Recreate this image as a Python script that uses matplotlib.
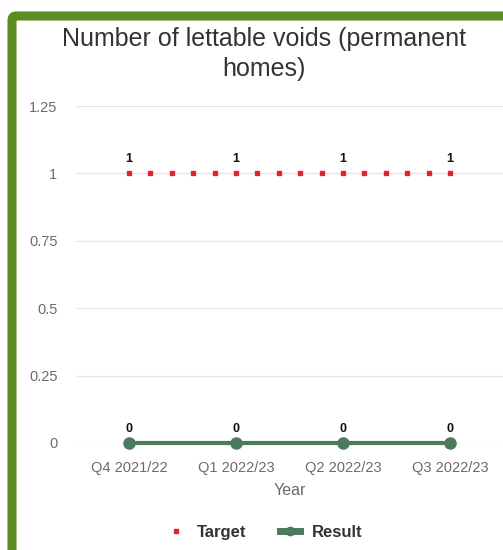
import matplotlib
matplotlib.use("Agg")
import matplotlib.pyplot as plt
from matplotlib.patches import FancyBboxPatch
from matplotlib.lines import Line2D
import numpy as np

categories = ["Q4 2021/22", "Q1 2022/23", "Q2 2022/23", "Q3 2022/23"]
target = [1, 1, 1, 1]
result = [0, 0, 0, 0]
yticks = [0, 0.25, 0.5, 0.75, 1, 1.25]
ytick_labels = ["0", "0.25", "0.5", "0.75", "1", "1.25"]

plt.rcParams['font.family'] = ['Liberation Sans', 'DejaVu Sans']

W, H = 503, 550
fig = plt.figure(figsize=(W / 100, H / 100), dpi=100)
fig.patch.set_facecolor("white")

def fx(px):
    return px / W

def fy(py):
    return 1 - py / H

green = "#5b8c22"
frame = FancyBboxPatch((fx(12), fy(600)), fx(600), 584 / H,
                       boxstyle="round,pad=0,rounding_size=0.008",
                       transform=fig.transFigure, facecolor="none",
                       edgecolor=green, linewidth=6.5, zorder=0)
fig.patches.append(frame)

y0px, y125px = 443, 106
ax = fig.add_axes([fx(75.5), fy(y0px), fx(503.5) - fx(75.5), (y0px - y125px) / H])
ax.set_ylim(0, 1.25)
x = list(range(len(categories)))
ax.set_xlim(-0.5, len(categories) - 0.5)

ax.set_yticks(yticks)
ax.set_yticklabels(ytick_labels)
ax.set_xticks(x)
ax.set_xticklabels(categories)
ax.tick_params(axis="both", length=0, labelsize=10.5, colors="#6b6b6b")
ax.tick_params(axis="y", pad=13)
ax.tick_params(axis="x", pad=13)
for s in ax.spines.values():
    s.set_visible(False)
ax.grid(axis="y", color="#e6e6e6", linewidth=1)
ax.set_axisbelow(True)
ax.set_facecolor("none")

red = "#e3242b"
res_col = "#4b7b5c"
ax.plot(x, target, linestyle="none", marker="s", markersize=3, color=red, zorder=3)
for i in range(len(x) - 1):
    seg = np.linspace(x[i], x[i + 1], 6)[1:-1]
    ax.plot(seg, [target[i]] * len(seg), linestyle="none", marker="s", markersize=3,
            color=red, zorder=3)
ax.plot(x, result, color=res_col, linewidth=3, marker="o", markersize=8, zorder=4,
        clip_on=False)

for xi, v in zip(x, target):
    ax.annotate(str(v), (xi, v), xytext=(0, 6), textcoords="offset points",
                ha="center", va="bottom", fontsize=9, fontweight="bold", color="#111111")
for xi, v in zip(x, result):
    ax.annotate(str(v), (xi, v), xytext=(0, 6), textcoords="offset points",
                ha="center", va="bottom", fontsize=9, fontweight="bold", color="#111111")

ax.set_xlabel("Year", fontsize=11.5, color="#6b6b6b", labelpad=6)

fig.text(fx(264), fy(54), "Number of lettable voids (permanent\nhomes)", ha="center",
         va="center", fontsize=18, color="#333333", linespacing=1.3)

handles = [Line2D([], [], linestyle="none", marker="s", markersize=3.5, color=red),
           Line2D([], [], color=res_col, linewidth=5, marker="o", markersize=6)]
leg = fig.legend(handles, ["Target", "Result"], loc="center", bbox_to_anchor=(fx(264), fy(532)),
                 ncol=2, frameon=False, prop={"weight": "bold", "size": 12},
                 handlelength=1.2, handleheight=1.0, columnspacing=2.0, handletextpad=0.7)
for t in leg.get_texts():
    t.set_color("#333333")
    t.set_va("baseline")

fig.savefig("out.png", dpi=100)
